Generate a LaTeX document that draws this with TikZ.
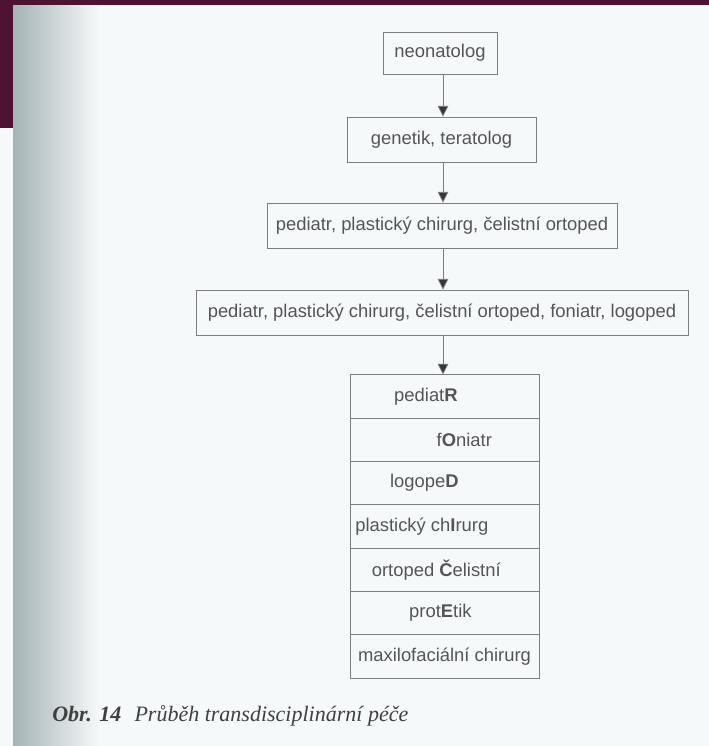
\documentclass[tikz,border=0pt]{standalone}
\usepackage{fontspec}
\setmainfont{Liberation Serif}
\newfontfamily\boxfont{Liberation Sans}
\usetikzlibrary{arrows.meta}

\definecolor{pagebg}{RGB}{246,249,250}
\definecolor{maroon}{RGB}{78,18,50}
\definecolor{spine}{RGB}{165,180,182}
\definecolor{inkgray}{RGB}{85,85,85}
\definecolor{linegray}{RGB}{125,125,125}
\definecolor{tipgray}{RGB}{55,55,55}

\begin{document}
\begin{tikzpicture}[
    x=0.75pt, y=-0.75pt,
    every node/.style={font=\boxfont\fontsize{13.8}{15}\selectfont, text=inkgray},
    stagebox/.style={
        draw=linegray,
        line width=0.7pt,
        align=center,
        inner sep=0pt
    },
    cell/.style={
        draw=linegray,
        line width=0.7pt,
        minimum width=141.75pt,
        minimum height=32.5pt,
        inner sep=0pt
    },
    arr/.style={-{Triangle[width=8pt,length=8pt,fill=tipgray]}, draw=linegray, line width=0.6pt}
]

    % page
    \fill[pagebg] (0,0) rectangle (709,746);
    \shade[left color=spine, right color=pagebg] (13,0) rectangle (100,746);
    \fill[maroon] (0,0) rectangle (709,5);
    \fill[maroon] (0,0) rectangle (13,128);
    \useasboundingbox (0,0) rectangle (709,746);

    % Main path
    \node[stagebox, minimum width=85.5pt, minimum height=31.5pt] (neo) at (440,53) {neonatolog};
    \node[stagebox, minimum width=141.75pt, minimum height=33.75pt] (gen) at (441.5,139.5) {genetik, teratolog};
    \node[stagebox, minimum width=262.5pt, minimum height=33.75pt] (ped) at (442,225.5)
        {pediatr, plastický chirurg, čelistní ortoped};
    \node[stagebox, minimum width=369pt, minimum height=33.75pt] (all) at (442,312.5)
        {pediatr, plastický chirurg, čelistní ortoped, foniatr, logoped};

    \draw[arr] (neo.south -| 443,0) -- (gen.north -| 443,0);
    \draw[arr] (gen.south -| 443,0) -- (ped.north -| 443,0);
    \draw[arr] (ped.south -| 443,0) -- (all.north -| 443,0);

    % team column
    \node[cell] (c1) at (444.5,396.6) {};
    \node[cell] (c2) at (444.5,439.9) {};
    \node[cell] (c3) at (444.5,483.2) {};
    \node[cell] (c4) at (444.5,526.5) {};
    \node[cell] (c5) at (444.5,569.8) {};
    \node[cell] (c6) at (444.5,613.1) {};
    \node[cell] (c7) at (444.5,656.4) {};

    \draw[arr] (all.south -| 443,0) -- (c1.north -| 443,0);

    \node (t1) at (451,396.6) {\llap{pediat}\textbf{R}\rlap{}};
    \node (t2) at (449,439.9) {\llap{f}\textbf{O}\rlap{niatr}};
    \node (t3) at (452,483.2) {\llap{logope}\textbf{D}\rlap{}};
    \node (t4) at (453,526.5) {\llap{plastický ch}\textbf{I}\rlap{rurg}};
    \node (t5) at (446,569.8) {\llap{ortoped }\textbf{Č}\rlap{elistní}};
    \node (t6) at (447,613.1) {\llap{prot}\textbf{E}\rlap{tik}};
    \node (t7) at (c7.center) {maxilofaciální chirurg};

    % caption
    \node[font=\rmfamily\itshape\fontsize{16.5}{18}\selectfont, text=black!75, anchor=base west, inner sep=0pt]
        (cap) at (52,721) {\textbf{Obr. 14}\hspace{0.6em}Průběh transdisciplinární péče};

\end{tikzpicture}
\end{document}
